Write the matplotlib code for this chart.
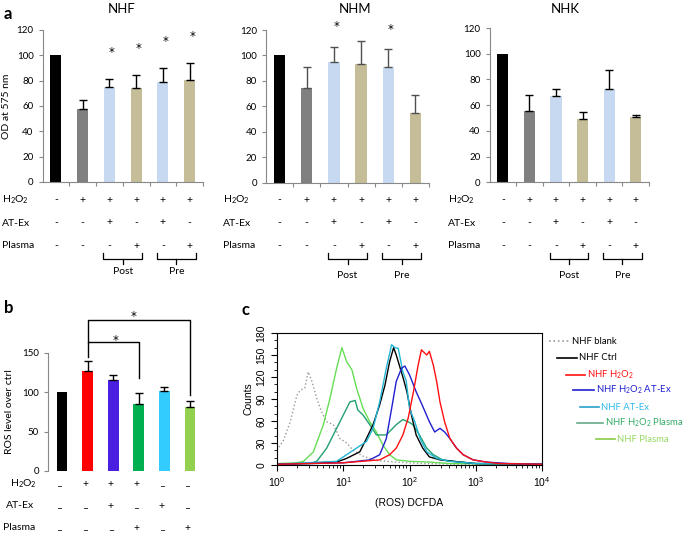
import matplotlib
matplotlib.use("Agg")
import matplotlib.pyplot as plt
import numpy as np
from matplotlib.lines import Line2D
from matplotlib.transforms import blended_transform_factory
from matplotlib.ticker import MultipleLocator, LogLocator, NullFormatter

W, H = 685, 534

plt.rcParams['font.family'] = ['Lato', 'DejaVu Sans']
plt.rcParams['mathtext.fontset'] = 'custom'
plt.rcParams['mathtext.rm'] = 'Lato'

H2O2 = "H$_\\mathregular{2}$O$_\\mathregular{2}$"

# ---- panel a data (viability, OD at 575 nm)
a_titles = ["NHF", "NHM", "NHK"]
nhf_vals = [100, 58, 75, 74.5, 79, 80.5]
nhf_err = [0, 6.5, 6, 10, 11, 13.5]
nhf_sig = [0, 0, 1, 1, 1, 1]
nhm_vals = [100, 74, 94.5, 93.5, 91, 55]
nhm_err = [0, 17, 12.5, 17.5, 14, 14]
nhm_sig = [0, 0, 1, 0, 1, 0]
nhk_vals = [100, 55.5, 67, 49.5, 72.5, 50.5]
nhk_err = [0, 12.5, 5.5, 5.5, 14.5, 1.5]
nhk_sig = [0, 0, 0, 0, 0, 0]
a_colors = ["#000000", "#808080", "#c6d9f1", "#c4bd97", "#c6d9f1", "#c4bd97"]
a_h2o2 = ["-", "+", "+", "+", "+", "+"]
a_atex = ["-", "-", "+", "-", "+", "-"]
a_plasma = ["-", "-", "-", "+", "-", "+"]

# ---- panel b data (ROS level)
b_vals = [100, 127, 115, 85.5, 101, 81]
b_err = [0, 13, 7, 14, 6, 8]
b_colors = ["#000000", "#ff0000", "#4b1fe0", "#00b050", "#33ccff", "#92d050"]
b_h2o2 = ["–", "+", "+", "+", "–", "–"]
b_atex = ["–", "–", "+", "–", "+", "–"]
b_plasma = ["–", "–", "–", "+", "–", "+"]

# ---- panel c data (flow histograms), x as log10 of fluorescence
blank_lx = [0.0, 0.02, 0.1, 0.2, 0.3, 0.35, 0.42, 0.47, 0.52, 0.6, 0.67, 0.75, 0.85, 0.95, 1.05, 1.15, 1.3, 1.5, 1.8, 2.2, 2.8, 4.0]
blank_ct = [20, 23, 34, 59, 95, 102, 105, 127, 116, 91, 73, 59, 55, 36, 30, 20, 12, 6, 4, 2, 1, 1]
plasma_lx = [0.0, 0.3, 0.4, 0.55, 0.7, 0.8, 0.9, 0.98, 1.05, 1.13, 1.2, 1.3, 1.4, 1.5, 1.6, 1.7, 1.8, 2.0, 2.3, 2.6, 4.0]
plasma_ct = [2, 3, 5, 18, 55, 91, 132, 160, 141, 130, 105, 77, 59, 45, 27, 14, 7, 5, 4, 2, 1]
h2pl_lx = [0.0, 0.5, 0.6, 0.75, 0.9, 1.0, 1.1, 1.18, 1.22, 1.3, 1.4, 1.5, 1.65, 1.8, 1.9, 2.0, 2.05, 2.15, 2.26, 2.36, 2.5, 2.76, 3.0, 4.0]
h2pl_ct = [1, 2, 5, 23, 50, 68, 86, 88, 75, 68, 55, 41, 41, 55, 62, 58, 55, 41, 23, 14, 7, 4, 2, 1]
ctrl_lx = [0.0, 0.9, 1.05, 1.25, 1.35, 1.45, 1.55, 1.63, 1.7, 1.76, 1.8, 1.85, 1.9, 1.96, 2.03, 2.1, 2.2, 2.3, 2.46, 2.66, 3.0, 4.0]
ctrl_ct = [1, 4, 9, 18, 36, 55, 82, 109, 141, 160, 150, 135, 120, 100, 68, 41, 23, 11, 7, 5, 2, 1]
atex_lx = [0.0, 0.9, 1.05, 1.2, 1.35, 1.45, 1.55, 1.65, 1.73, 1.78, 1.83, 1.9, 1.95, 2.0, 2.08, 2.16, 2.26, 2.41, 2.6, 3.0, 4.0]
atex_ct = [1, 5, 14, 23, 32, 50, 86, 132, 164, 160, 159, 127, 115, 77, 59, 36, 18, 9, 5, 2, 1]
h2at_lx = [0.0, 1.0, 1.4, 1.55, 1.65, 1.73, 1.8, 1.88, 1.93, 2.0, 2.1, 2.2, 2.3, 2.38, 2.46, 2.53, 2.61, 2.71, 2.81, 2.96, 3.16, 3.5, 4.0]
h2at_ct = [1, 3, 7, 14, 36, 77, 114, 132, 135, 123, 100, 80, 59, 45, 50, 45, 36, 23, 14, 7, 4, 2, 1]
h2_lx = [0.0, 1.0, 1.55, 1.7, 1.8, 1.9, 1.98, 2.06, 2.13, 2.18, 2.26, 2.3, 2.36, 2.41, 2.46, 2.53, 2.61, 2.71, 2.81, 2.96, 3.16, 3.36, 4.0]
h2_ct = [1, 3, 7, 14, 23, 41, 64, 100, 136, 157, 150, 155, 136, 114, 86, 59, 36, 23, 14, 7, 4, 2, 1]

flow_labels = ["NHF blank", "NHF Ctrl", "NHF " + H2O2, "NHF " + H2O2 + " AT-Ex",
               "NHF AT-Ex", "NHF " + H2O2 + " Plasma", "NHF Plasma"]

STAR_FONT = ['DejaVu Sans']


def fx(x):
    return x / W


def fy(y):
    return 1 - y / H


fig = plt.figure(figsize=(W / 100, H / 100), dpi=100)


def bar_panel(rect, vals, err, sig, star_off, ecol):
    ax = fig.add_axes(rect)
    x = np.arange(len(vals))
    ax.bar(x, vals, width=0.42, color=a_colors, zorder=2)
    xe = [i for i in x if err[i] > 0]
    ax.errorbar(xe, [vals[i] for i in xe], yerr=[[0] * len(xe), [err[i] for i in xe]],
                fmt='none', ecolor=ecol, elinewidth=1, capsize=3, capthick=1, zorder=3)
    for i in x:
        if sig[i]:
            ax.text(i + 0.1, vals[i] + err[i] + star_off, "*", ha='center', va='center',
                    fontsize=8.5, family=STAR_FONT, clip_on=False)
    ax.set_xlim(-0.5, 5.5)
    ax.set_ylim(0, 120)
    ax.set_yticks(range(0, 121, 20))
    ax.set_xticks(np.arange(0.5, 6, 1))
    ax.set_xticklabels([])
    for s in ['top', 'right']:
        ax.spines[s].set_visible(False)
    for s in ['left', 'bottom']:
        ax.spines[s].set_color('#888888')
    ax.tick_params(axis='both', colors='#888888', labelcolor='black', labelsize=7, length=3)
    return ax


def table_a(ax, lab_x, post_y):
    tr = blended_transform_factory(ax.transData, fig.transFigure)
    rows = [(H2O2, a_h2o2, 200), ("AT-Ex", a_atex, 223), ("Plasma", a_plasma, 246)]
    for lab, syms, y in rows:
        fig.text(fx(lab_x), fy(y), lab, fontsize=7.5, va='center', ha='left')
        for i, s in enumerate(syms):
            ax.text(i, fy(y), s, transform=tr, fontsize=7.5, ha='center', va='center')
    # braces under Post / Pre
    for c0, c1, lab in [(2, 3, "Post"), (4, 5, "Pre")]:
        xl, xr = c0 - 0.22, c1 + 0.22
        xm = (c0 + c1) / 2
        ax.add_line(Line2D([xl, xl, xr, xr], [fy(253), fy(259), fy(259), fy(253)],
                           transform=tr, color='black', lw=0.9, clip_on=False))
        ax.add_line(Line2D([xm, xm], [fy(259), fy(264)], transform=tr,
                           color='black', lw=0.9, clip_on=False))
        ax.text(xm, fy(post_y), lab, transform=tr, fontsize=7.5, ha='center', va='center')


ax1 = bar_panel([fx(42.5), fy(182), fx(203 - 42.5), (182 - 30) / H], nhf_vals, nhf_err, nhf_sig, 21, 'black')
ax1.set_ylabel("OD at 575 nm", fontsize=7.5, labelpad=4)
ax2 = bar_panel([fx(266), fy(182.5), fx(429 - 266), (182.5 - 30) / H], nhm_vals, nhm_err, nhm_sig, 15.5, '#505050')
ax3 = bar_panel([fx(489.5), fy(182.3), fx(649 - 489.5), (182.3 - 28) / H], nhk_vals, nhk_err, nhk_sig, 0, 'black')
table_a(ax1, 2, 272)
table_a(ax2, 223, 275)
table_a(ax3, 448, 275)
for a, t, tx in zip((ax1, ax2, ax3), a_titles, (122, 355, 565)):
    a.set_xlim(-0.5, 5.5)
    fig.text(fx(tx), fy(9), t, fontsize=9.5, ha='center', va='center')

# ---- panel b
axb = fig.add_axes([fx(48), fy(471), fx(204 - 48), (471 - 352.7) / H])
xb = np.arange(len(b_vals))
axb.bar(xb, b_vals, width=0.42, color=b_colors, zorder=2)
xe = [i for i in xb if b_err[i] > 0]
axb.errorbar(xe, [b_vals[i] for i in xe], yerr=[[0] * len(xe), [b_err[i] for i in xe]],
             fmt='none', ecolor='black', elinewidth=1, capsize=3, capthick=1, zorder=3)
axb.set_xlim(-0.55, 5.55)
axb.set_ylim(0, 150)
axb.set_yticks([0, 50, 100, 150])
axb.set_xticks([])
for s in ['top', 'right', 'bottom']:
    axb.spines[s].set_visible(False)
axb.spines['left'].set_color('#888888')
axb.tick_params(axis='y', colors='#888888', labelcolor='black', labelsize=7, length=3)
axb.set_ylabel("ROS level over ctrl", fontsize=7.5, labelpad=6)
# significance brackets
axb.plot([1, 1, 3, 3], [145, 163, 163, 118], color='black', lw=1, clip_on=False)
axb.plot([1, 1, 5, 5], [163, 191.5, 191.5, 96], color='black', lw=1, clip_on=False)
axb.text(2.1, 166, "*", ha='center', va='center', fontsize=8.5, family=STAR_FONT, clip_on=False)
axb.text(2.8, 196, "*", ha='center', va='center', fontsize=8.5, family=STAR_FONT, clip_on=False)
trb = blended_transform_factory(axb.transData, fig.transFigure)
for lab, syms, y, lx in [(H2O2, b_h2o2, 484, 10), ("AT-Ex", b_atex, 506, 6), ("Plasma", b_plasma, 528, 3)]:
    fig.text(fx(lx), fy(y), lab, fontsize=7.5, va='center', ha='left')
    for i, s in enumerate(syms):
        dy = 3 if s == "–" else 0
        axb.text(i - 0.1, fy(y + dy), s, transform=trb, fontsize=7.5, ha='center', va='center')

# ---- panel c
axc = fig.add_axes([fx(277), fy(465), fx(542 - 277), (465 - 333) / H])
curves = [
    (blank_lx, blank_ct, '#999999', ':'),
    (plasma_lx, plasma_ct, '#66dd55', '-'),
    (h2pl_lx, h2pl_ct, '#22a070', '-'),
    (ctrl_lx, ctrl_ct, '#000000', '-'),
    (atex_lx, atex_ct, '#22b5d5', '-'),
    (h2at_lx, h2at_ct, '#2020d0', '-'),
    (h2_lx, h2_ct, '#ff1010', '-'),
]
for lx, ct, col, ls in curves:
    axc.plot(10 ** np.array(lx), ct, color=col, ls=ls, lw=1)
axc.set_xscale('log')
axc.set_xlim(1, 1e4)
axc.set_ylim(0, 180)
axc.set_yticks(range(0, 181, 30))
axc.yaxis.set_minor_locator(MultipleLocator(10))
axc.xaxis.set_minor_locator(LogLocator(base=10, subs=np.arange(2, 10), numticks=20))
axc.xaxis.set_minor_formatter(NullFormatter())
axc.tick_params(axis='both', which='both', top=False, right=False, direction='out', labelsize=7.5)
axc.tick_params(axis='both', which='major', length=4)
axc.tick_params(axis='both', which='minor', length=2)
for lab in axc.get_yticklabels():
    lab.set_rotation(90)
    lab.set_va('center')
    lab.set_family(['Liberation Sans'])
for lab in axc.get_xticklabels():
    lab.set_family(['Liberation Sans'])
axc.set_ylabel("Counts", fontsize=7.5, family=['Liberation Sans'], labelpad=2)
axc.set_xlabel("(ROS) DCFDA", fontsize=7.5, family=['Liberation Sans'], labelpad=6)

# legend for panel c, staggered
leg_items = [
    (549, 570, 341, '#999999', ':', '#000000'),
    (557, 577, 358, '#000000', '-', '#000000'),
    (566, 585, 375, '#ff1010', '-', '#ff1010'),
    (573, 594, 390, '#2020d0', '-', '#2020d0'),
    (580, 599, 407, '#2a9fc8', '-', '#33bbee'),
    (577, 603, 423, '#66aa88', '-', '#33aa66'),
    (596, 615, 439, '#88cc44', '-', '#99d966'),
]
for (x0, x1, y, lc, ls, tc), lab in zip(leg_items, flow_labels):
    fig.add_artist(Line2D([fx(x0), fx(x1)], [fy(y), fy(y)], color=lc, ls=ls, lw=1.2))
    fig.text(fx(x1 + 2), fy(y), lab, color=tc, fontsize=6.8, va='center', ha='left')

# panel letters
fig.text(fx(4), fy(14), "a", fontsize=12, fontweight='bold', va='center')
fig.text(fx(4), fy(308), "b", fontsize=12, fontweight='bold', va='center')
fig.text(fx(241), fy(310), "c", fontsize=12, fontweight='bold', va='center')

fig.savefig("out.png", dpi=100)
